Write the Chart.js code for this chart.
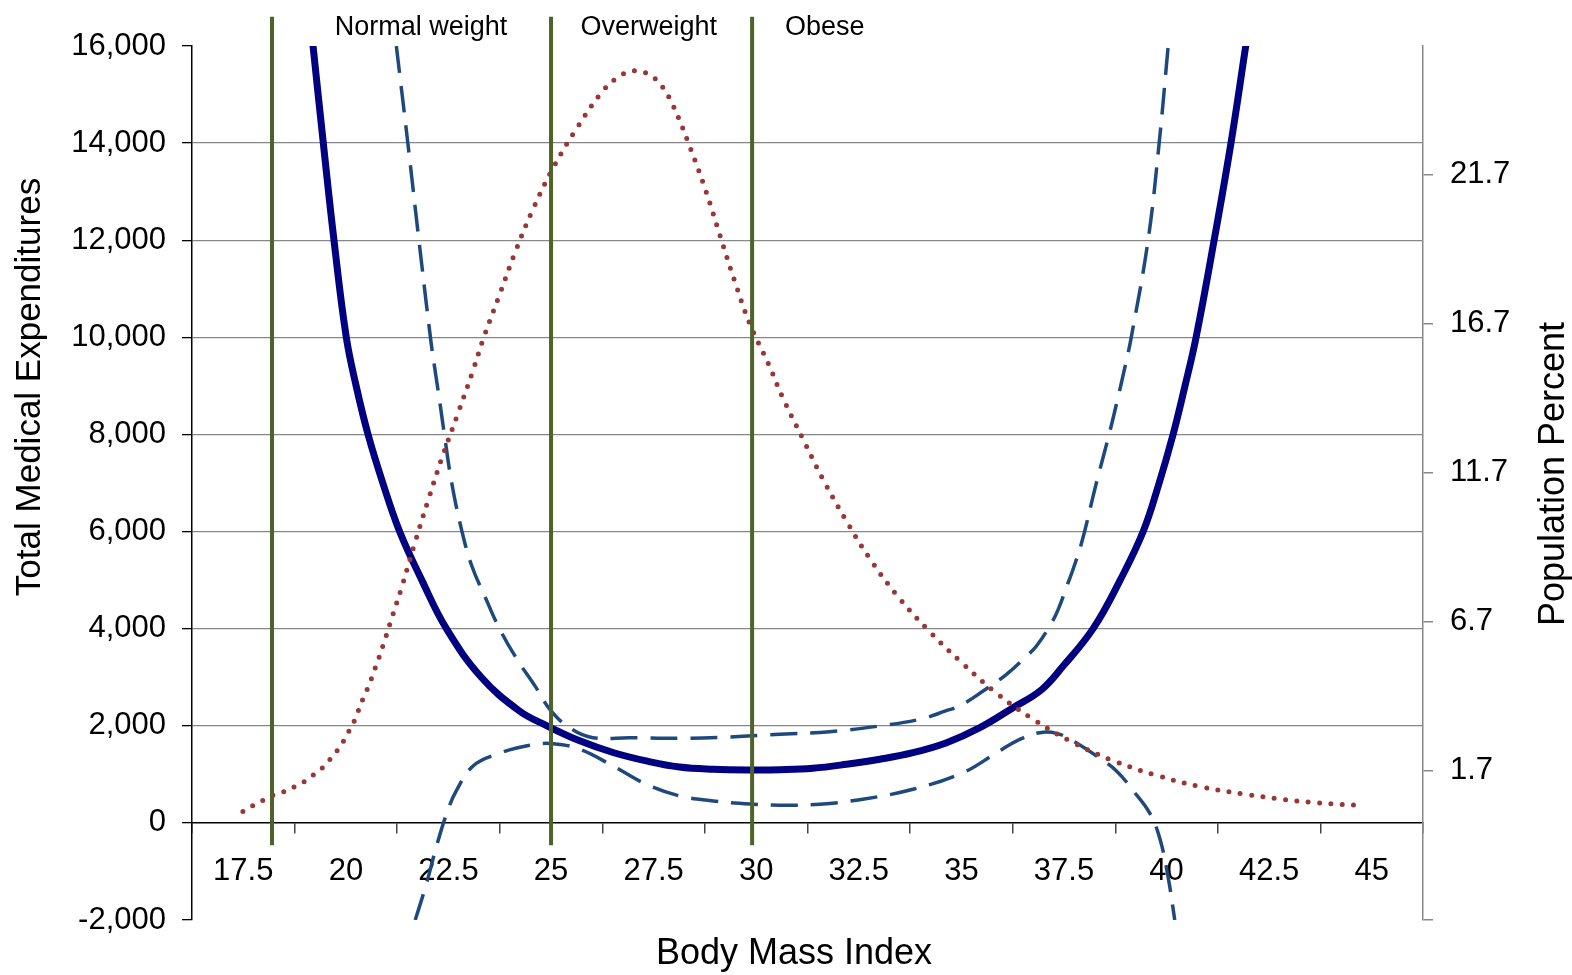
<!DOCTYPE html>
<html>
<head>
<meta charset="utf-8">
<script src="https://cdn.jsdelivr.net/npm/chart.js@4.4.1/dist/chart.umd.min.js"></script>
<style>
  html, body { margin: 0; padding: 0; background: #ffffff; }
  #wrap { width: 1572px; height: 975px; position: relative; }
</style>
</head>
<body>
<div id="wrap"><canvas id="c"></canvas></div>
<script>
const FONT = "'Liberation Sans', Arial, Helvetica, sans-serif";

// ---- Data ----
// Fitted total medical expenditures (left axis)
const fitBmi = [19.2, 19.45, 19.71, 20.01, 20.25, 20.54, 20.9, 21.31, 21.85, 22.45, 23.3, 24.23, 24.9, 25.7, 26.51, 27.32, 28.13, 28.95, 29.91, 30.57, 31.38, 32.2, 33.01, 33.82, 34.64, 35.45, 36.26, 36.95, 37.48, 38.21, 38.87, 39.43, 39.82, 40.16, 40.45, 40.72, 41.16, 41.57, 41.93];
const fitExp = [16000, 14000, 12000, 10000, 9000, 8000, 7000, 6000, 5000, 4000, 3000, 2305, 2000, 1690, 1450, 1276, 1150, 1105, 1090, 1095, 1125, 1207, 1311, 1446, 1652, 1961, 2373, 2740, 3230, 4000, 5000, 6000, 7000, 8000, 9000, 10000, 12000, 14000, 16000];

// Upper confidence bound (left axis)
const upperBmi = [21.23, 21.51, 21.78, 22.06, 22.16, 22.28, 22.4, 22.58, 22.83, 23.07, 23.42, 23.75, 24.17, 24.64, 24.97, 25.45, 26.02, 26.92, 28.13, 29.35, 30.57, 31.79, 33.01, 33.99, 34.6, 35.0, 35.53, 36.1, 36.59, 36.83, 37.2, 37.36, 37.6, 37.72, 37.93, 38.29, 38.6, 38.8, 39.0, 39.14, 39.55, 39.82, 40.04];
const upperExp = [16000, 14000, 12000, 10000, 9400, 8720, 8000, 7000, 6000, 5290, 4600, 3990, 3370, 2780, 2340, 1960, 1755, 1755, 1742, 1770, 1825, 1879, 1996, 2134, 2300, 2430, 2716, 3060, 3436, 3642, 4120, 4396, 4944, 5219, 5768, 7000, 8000, 8700, 9440, 10000, 12000, 14000, 16000];

// Lower confidence bound (left axis)
const lowerBmi = [21.69, 21.96, 22.2, 22.45, 22.69, 23.1, 23.67, 24.48, 25.05, 25.7, 26.51, 27.32, 28.13, 28.95, 29.91, 30.57, 31.55, 32.6, 33.82, 35.04, 35.86, 36.42, 36.91, 37.32, 37.72, 38.29, 38.78, 39.19, 39.59, 39.84, 40.04, 40.2];
const lowerExp = [-2000, -1262, -508, 179, 658, 1173, 1413, 1598, 1632, 1516, 1173, 796, 556, 453, 385, 364, 385, 488, 693, 1035, 1446, 1720, 1858, 1844, 1687, 1379, 1070, 658, 200, -330, -1125, -2000];

// Population percent (right axis)
const popBmi = [17.49, 17.74, 17.99, 18.24, 18.51, 18.76, 19.01, 19.23, 19.46, 19.64, 19.82, 19.97, 20.1, 20.23, 20.33, 20.43, 20.54, 20.74, 20.92, 21.09, 21.35, 21.67, 22.0, 22.35, 22.73, 23.1, 23.36, 23.75, 24.14, 24.57, 25.06, 25.64, 26.28, 26.71, 26.98, 27.26, 27.5, 27.7, 27.98, 28.4, 28.78, 29.12, 29.46, 29.84, 30.3, 30.64, 31.13, 31.63, 32.18, 32.77, 33.44, 34.19, 34.99, 35.84, 36.75, 37.72, 38.74, 39.81, 40.89, 42.01, 42.86, 43.69, 44.82];
const popPct = [0.34, 0.54, 0.72, 0.89, 1.01, 1.18, 1.36, 1.59, 1.84, 2.13, 2.44, 2.76, 3.1, 3.45, 3.81, 4.16, 4.5, 5.24, 5.96, 6.7, 7.81, 9.29, 10.75, 12.23, 13.68, 15.13, 16.23, 17.68, 19.14, 20.56, 21.94, 23.27, 24.52, 25.02, 25.16, 25.12, 24.94, 24.66, 23.99, 22.56, 21.11, 19.64, 18.18, 16.7, 15.34, 14.23, 12.85, 11.47, 10.12, 8.81, 7.57, 6.42, 5.35, 4.32, 3.43, 2.65, 2.02, 1.53, 1.15, 0.9, 0.74, 0.63, 0.53];

// Weight-class cut-offs (vertical lines) and their labels
const cutoffBmi = [18.2, 25, 29.9];
const cutoffSpan = [-460, 16600];
const classLabels = ['Normal weight', 'Overweight', 'Obese'];
const classLabelBmi = [21.83, 27.38, 31.67];

// Axis ticks
const xLabelValues = [17.5, 20, 22.5, 25, 27.5, 30, 32.5, 35, 37.5, 40, 42.5, 45];
const xTickLabels = ['17.5', '20', '22.5', '25', '27.5', '30', '32.5', '35', '37.5', '40', '42.5', '45'];
const xTickMarks = [16.25, 18.75, 21.25, 23.75, 26.25, 28.75, 31.25, 33.75, 36.25, 38.75, 41.25, 43.75, 46.25];
const yTickValues = [-2000, 0, 2000, 4000, 6000, 8000, 10000, 12000, 14000, 16000];
const yTickLabels = ['-2,000', '0', '2,000', '4,000', '6,000', '8,000', '10,000', '12,000', '14,000', '16,000'];
const y2TickValues = [-3.3, 1.7, 6.7, 11.7, 16.7, 21.7];
const y2TickLabels = ['', '1.7', '6.7', '11.7', '16.7', '21.7'];

const xTitle = 'Body Mass Index';
const yTitle = 'Total Medical Expenditures';
const y2Title = 'Population Percent';

// ---- Build ----
const pts = (xs, ys) => xs.map((x, i) => ({ x: x, y: ys[i] }));
const allXTicks = xTickMarks.concat(xLabelValues).sort((a, b) => a - b);

const curveCommon = {
  pointRadius: 0,
  pointHoverRadius: 0,
  fill: false,
  tension: 0.4,
  clip: 0
};

const datasets = [];
cutoffBmi.forEach((b, i) => {
  datasets.push({
    label: 'cutoff ' + i,
    data: [{ x: b, y: cutoffSpan[0] }, { x: b, y: cutoffSpan[1] }],
    yAxisID: 'y',
    borderColor: '#4F6228',
    borderWidth: 4,
    pointRadius: 0,
    tension: 0,
    clip: false
  });
});
datasets.push(Object.assign({}, curveCommon, {
  label: 'Population Percent',
  data: pts(popBmi, popPct),
  yAxisID: 'y2',
  borderColor: '#993735',
  borderWidth: 5,
  borderDash: [0, 11.4],
  borderCapStyle: 'round'
}));
datasets.push(Object.assign({}, curveCommon, {
  label: 'Total Medical Expenditures',
  data: pts(fitBmi, fitExp),
  yAxisID: 'y',
  borderColor: '#000080',
  borderWidth: 7,
  borderCapStyle: 'round'
}));
datasets.push(Object.assign({}, curveCommon, {
  label: 'Upper bound',
  data: pts(upperBmi, upperExp),
  yAxisID: 'y',
  borderColor: '#1F497D',
  borderWidth: 3.5,
  borderDash: [27, 13]
}));
datasets.push(Object.assign({}, curveCommon, {
  label: 'Lower bound',
  data: pts(lowerBmi, lowerExp),
  yAxisID: 'y',
  borderColor: '#1F497D',
  borderWidth: 3.5,
  borderDash: [27, 13]
}));

const textPlugin = {
  id: 'textPlugin',
  afterDraw(chart) {
    const { ctx, chartArea, scales } = chart;
    ctx.save();
    ctx.fillStyle = '#000';
    ctx.textAlign = 'center';
    ctx.textBaseline = 'middle';
    ctx.font = '27px ' + FONT;
    classLabels.forEach((t, i) => {
      ctx.fillText(t, scales.x.getPixelForValue(classLabelBmi[i]), chartArea.top - 18);
    });
    ctx.font = '36px ' + FONT;
    ctx.fillText(xTitle, chartArea.left + 602, chartArea.bottom + 34);
    ctx.save();
    ctx.font = '35px ' + FONT;
    ctx.translate(30, chartArea.top + 341);
    ctx.rotate(-Math.PI / 2);
    ctx.fillText(yTitle, 0, 0);
    ctx.restore();
    ctx.save();
    ctx.translate(chartArea.right + 131, chartArea.top + 428);
    ctx.rotate(-Math.PI / 2);
    ctx.fillText(y2Title, 0, 0);
    ctx.restore();
    ctx.restore();
  }
};

const tickFont = { family: FONT, size: 31 };

new Chart(document.getElementById('c'), {
  type: 'line',
  data: { datasets: datasets },
  plugins: [textPlugin],
  options: {
    responsive: true,
    maintainAspectRatio: false,
    animation: false,
    devicePixelRatio: 1,
    layout: { padding: { top: 46, bottom: 55, left: 0, right: 0 } },
    plugins: { legend: { display: false }, tooltip: { enabled: false } },
    scales: {
      x: {
        type: 'linear',
        position: { y: 0 },
        min: 16.25,
        max: 46.25,
        afterBuildTicks: (s) => { s.ticks = allXTicks.map(v => ({ value: v })); },
        ticks: {
          autoSkip: false,
          maxRotation: 0,
          minRotation: 0,
          padding: 20,
          color: '#000',
          font: tickFont,
          callback: (v) => {
            const i = xLabelValues.indexOf(v);
            return i >= 0 ? xTickLabels[i] : '';
          }
        },
        grid: {
          drawOnChartArea: false,
          drawTicks: true,
          tickLength: 10,
          lineWidth: 1.5,
          tickColor: (c) => (c.tick && xLabelValues.indexOf(c.tick.value) >= 0) ? 'rgba(0,0,0,0)' : '#444'
        },
        border: { display: true, color: '#000', width: 1.5 }
      },
      y: {
        type: 'linear',
        position: 'left',
        min: -2000,
        max: 16000,
        afterBuildTicks: (s) => { s.ticks = yTickValues.map(v => ({ value: v })); },
        afterFit: (s) => { s.width = 192; },
        ticks: {
          padding: 16,
          color: '#000',
          font: tickFont,
          callback: (v) => {
            const i = yTickValues.indexOf(v);
            return i >= 0 ? yTickLabels[i] : '';
          }
        },
        grid: {
          drawTicks: true,
          tickLength: 10,
          lineWidth: 1.3,
          color: (c) => {
            const v = c.tick ? c.tick.value : null;
            return (v === -2000 || v === 0 || v === 16000) ? 'rgba(0,0,0,0)' : '#878787';
          },
          tickColor: '#000'
        },
        border: { display: true, color: '#000', width: 1.5 }
      },
      y2: {
        type: 'linear',
        position: 'right',
        min: -3.3,
        max: 26.0,
        afterBuildTicks: (s) => { s.ticks = y2TickValues.map(v => ({ value: v })); },
        afterFit: (s) => { s.width = 149; },
        ticks: {
          padding: 17,
          color: '#000',
          font: tickFont,
          callback: (v) => {
            const i = y2TickValues.indexOf(v);
            return i >= 0 ? y2TickLabels[i] : '';
          }
        },
        grid: {
          drawOnChartArea: false,
          drawTicks: true,
          tickLength: 10,
          lineWidth: 1.5,
          tickColor: '#888'
        },
        border: { display: true, color: '#888', width: 1.5 }
      }
    }
  }
});
</script>
</body>
</html>
